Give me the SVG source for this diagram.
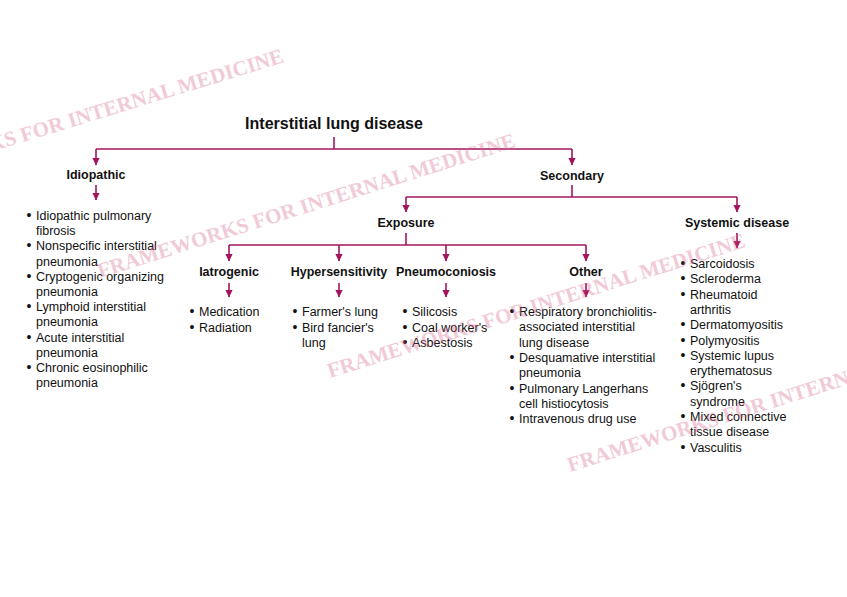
<svg xmlns="http://www.w3.org/2000/svg" width="847" height="597" viewBox="0 0 847 597">
<style>
.t{font-family:"Liberation Sans",Arial,sans-serif;fill:#111}
.h{font-weight:bold;font-size:12.5px;text-anchor:middle}
.title{font-weight:bold;font-size:16px;text-anchor:middle}
.b{font-size:12.5px}
.d{font-size:14px}
.c path{fill:none;stroke:#a3145c;stroke-width:1.6}
.c path.a{marker-end:url(#ah)}
.wm{font-family:"Liberation Serif","Times New Roman",serif;font-weight:bold;font-size:21px;fill:#d9668f;opacity:0.34}
</style>
<defs>
<marker id="ah" markerUnits="userSpaceOnUse" markerWidth="10" markerHeight="10" refX="7" refY="0" viewBox="0 -5 8 10" orient="auto">
<path d="M0,-3.6 L7.5,0 L0,3.6 z" fill="#a3145c"/>
</marker>
</defs>
<rect width="847" height="597" fill="#fff"/>
<g id="connectors" class="c">
<path d="M334,137 V149"/>
<path d="M96,149 H572"/>
<path class="a" d="M96,149 V165"/>
<path class="a" d="M572,149 V165"/>
<path class="a" d="M96,185 V200"/>
<path d="M572,185 V197"/>
<path d="M406,197 H737"/>
<path class="a" d="M406,197 V212"/>
<path class="a" d="M737,197 V212"/>
<path class="a" d="M737,233 V248"/>
<path d="M406,233 V245"/>
<path d="M229,245 H586"/>
<path class="a" d="M229,245 V261"/>
<path class="a" d="M339,245 V261"/>
<path class="a" d="M446,245 V261"/>
<path class="a" d="M586,245 V261"/>
<path class="a" d="M229,283 V297"/>
<path class="a" d="M339,283 V297"/>
<path class="a" d="M446,283 V297"/>
<path class="a" d="M586,283 V297"/>
</g>
<g id="root"><text class="t title" x="334" y="129">Interstitial lung disease</text></g>
<g id="idiopathic"><text class="t h" x="96" y="179">Idiopathic</text></g>
<g id="idiopathic-list"><text class="t b">
<tspan class="d" x="26.5" y="220">•</tspan><tspan x="36">Idiopathic pulmonary</tspan>
<tspan x="36" y="235.2">fibrosis</tspan>
<tspan class="d" x="26.5" y="250.4">•</tspan><tspan x="36">Nonspecific interstitial</tspan>
<tspan x="36" y="265.6">pneumonia</tspan>
<tspan class="d" x="26.5" y="280.8">•</tspan><tspan x="36">Cryptogenic organizing</tspan>
<tspan x="36" y="296">pneumonia</tspan>
<tspan class="d" x="26.5" y="311.2">•</tspan><tspan x="36">Lymphoid interstitial</tspan>
<tspan x="36" y="326.4">pneumonia</tspan>
<tspan class="d" x="26.5" y="341.6">•</tspan><tspan x="36">Acute interstitial</tspan>
<tspan x="36" y="356.8">pneumonia</tspan>
<tspan class="d" x="26.5" y="372">•</tspan><tspan x="36">Chronic eosinophilic</tspan>
<tspan x="36" y="387.2">pneumonia</tspan>
</text></g>
<g id="secondary"><text class="t h" x="572" y="180">Secondary</text></g>
<g id="exposure"><text class="t h" x="406" y="227">Exposure</text></g>
<g id="systemic"><text class="t h" x="737" y="227">Systemic disease</text></g>
<g id="systemic-list"><text class="t b">
<tspan class="d" x="680.5" y="268">•</tspan><tspan x="690">Sarcoidosis</tspan>
<tspan class="d" x="680.5" y="283.3">•</tspan><tspan x="690">Scleroderma</tspan>
<tspan class="d" x="680.5" y="298.6">•</tspan><tspan x="690">Rheumatoid</tspan>
<tspan x="690" y="313.9">arthritis</tspan>
<tspan class="d" x="680.5" y="329.2">•</tspan><tspan x="690">Dermatomyositis</tspan>
<tspan class="d" x="680.5" y="344.5">•</tspan><tspan x="690">Polymyositis</tspan>
<tspan class="d" x="680.5" y="359.8">•</tspan><tspan x="690">Systemic lupus</tspan>
<tspan x="690" y="375.1">erythematosus</tspan>
<tspan class="d" x="680.5" y="390.4">•</tspan><tspan x="690">Sjögren's</tspan>
<tspan x="690" y="405.7">syndrome</tspan>
<tspan class="d" x="680.5" y="421">•</tspan><tspan x="690">Mixed connective</tspan>
<tspan x="690" y="436.3">tissue disease</tspan>
<tspan class="d" x="680.5" y="451.6">•</tspan><tspan x="690">Vasculitis</tspan>
</text></g>
<g id="iatrogenic"><text class="t h" x="229" y="276">Iatrogenic</text>
<text class="t b"><tspan class="d" x="189.5" y="316">•</tspan><tspan x="199">Medication</tspan>
<tspan class="d" x="189.5" y="331.5">•</tspan><tspan x="199">Radiation</tspan></text></g>
<g id="hypersensitivity"><text class="t h" x="339" y="276">Hypersensitivity</text>
<text class="t b"><tspan class="d" x="292.5" y="316">•</tspan><tspan x="302">Farmer's lung</tspan>
<tspan class="d" x="292.5" y="331.5">•</tspan><tspan x="302">Bird fancier's</tspan>
<tspan x="302" y="347">lung</tspan></text></g>
<g id="pneumoconiosis"><text class="t h" x="446" y="276">Pneumoconiosis</text>
<text class="t b"><tspan class="d" x="402.5" y="316">•</tspan><tspan x="412">Silicosis</tspan>
<tspan class="d" x="402.5" y="331.5">•</tspan><tspan x="412">Coal worker's</tspan>
<tspan class="d" x="402.5" y="347">•</tspan><tspan x="412">Asbestosis</tspan></text></g>
<g id="other"><text class="t h" x="586" y="276">Other</text>
<text class="t b"><tspan class="d" x="509.5" y="316">•</tspan><tspan x="519">Respiratory bronchiolitis-</tspan>
<tspan x="519" y="331.3">associated interstitial</tspan>
<tspan x="519" y="346.6">lung disease</tspan>
<tspan class="d" x="509.5" y="361.9">•</tspan><tspan x="519">Desquamative interstitial</tspan>
<tspan x="519" y="377.2">pneumonia</tspan>
<tspan class="d" x="509.5" y="392.5">•</tspan><tspan x="519">Pulmonary Langerhans</tspan>
<tspan x="519" y="407.8">cell histiocytosis</tspan>
<tspan class="d" x="509.5" y="423.1">•</tspan><tspan x="519">Intravenous drug use</tspan></text></g>
<g id="watermarks">
<text class="wm" x="285" y="62" text-anchor="end" transform="rotate(-17 285 62)">FRAMEWORKS FOR INTERNAL MEDICINE</text>
<text class="wm" x="100" y="278" transform="rotate(-17.5 100 278)">FRAMEWORKS FOR INTERNAL MEDICINE</text>
<text class="wm" x="330" y="378" transform="rotate(-17.5 330 378)">FRAMEWORKS FOR INTERNAL MEDICINE</text>
<text class="wm" x="570" y="472" transform="rotate(-17.5 570 472)">FRAMEWORKS FOR INTERNAL MEDICINE</text>
</g>
</svg>
